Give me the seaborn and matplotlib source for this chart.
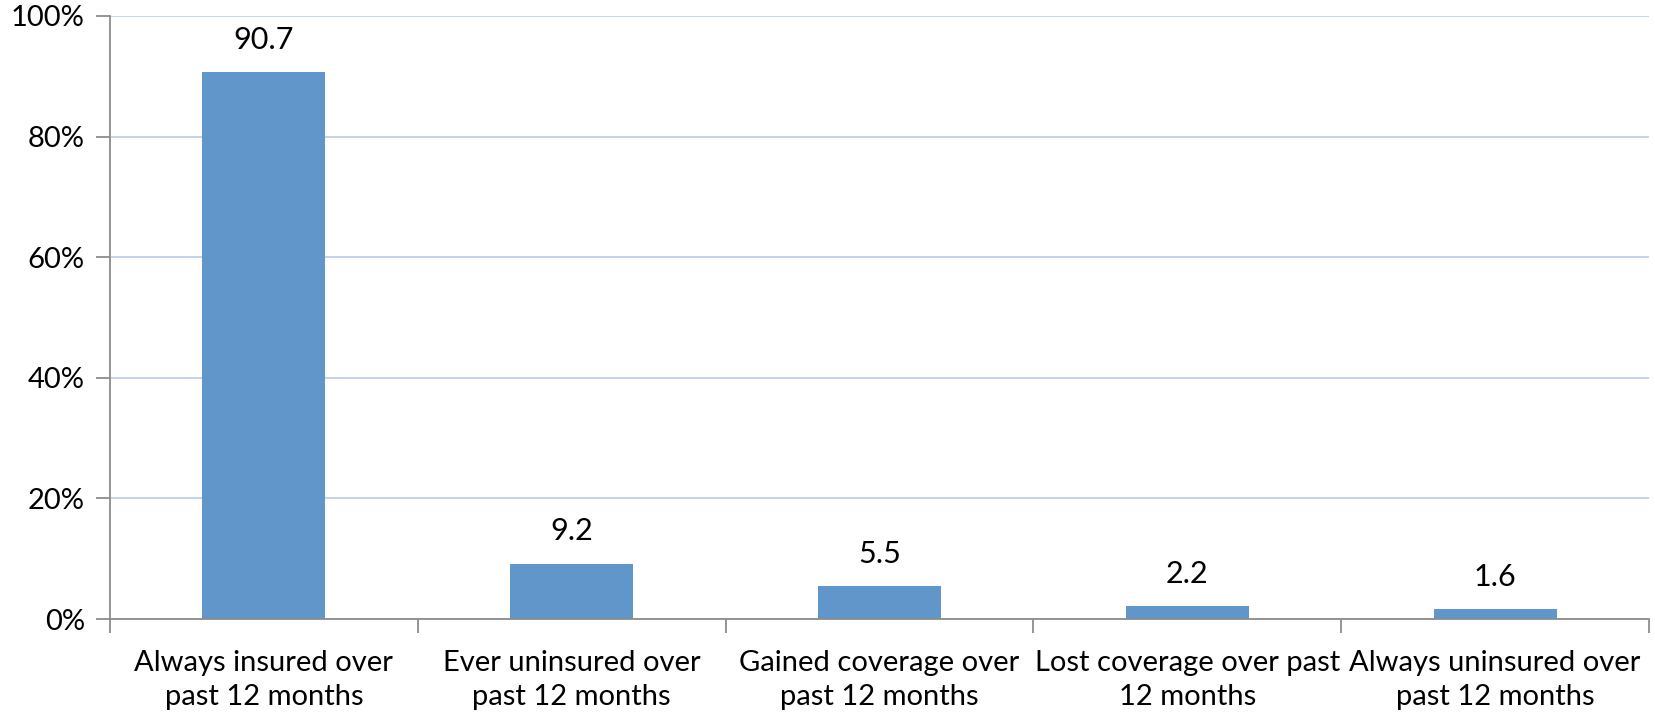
import matplotlib
matplotlib.use("Agg")
import matplotlib.pyplot as plt
import seaborn as sns
import pandas as pd
import numpy as np
from matplotlib.ticker import FixedLocator, FuncFormatter

categories = ["Always insured over\npast 12 months",
              "Ever uninsured over\npast 12 months",
              "Gained coverage over\npast 12 months",
              "Lost coverage over past\n12 months",
              "Always uninsured over\npast 12 months"]
values = [90.7, 9.2, 5.5, 2.2, 1.6]
yticks = [0, 20, 40, 60, 80, 100]

sns.set_theme(style="white")
plt.rcParams['font.family'] = ['Lato', 'DejaVu Sans']

df = pd.DataFrame({"cat": categories, "val": values})

fig = plt.figure(figsize=(16.56, 7.13), dpi=100)
ax = fig.add_axes([0.0664, 0.1318, 0.9294, 0.8458])

sns.barplot(data=df, x="cat", y="val", color="#6096CA", saturation=1,
            width=0.4, ax=ax, edgecolor="none", zorder=3)

ax.set_ylim(0, 100)
ax.set_xlim(-0.5, len(categories) - 0.5)
ax.yaxis.set_major_locator(FixedLocator(yticks))
ax.yaxis.set_major_formatter(FuncFormatter(lambda v, p: f"{int(v)}%"))
ax.grid(axis="y", color="#B9CDE5", linewidth=1.2, zorder=0)
ax.set_axisbelow(True)

for s in ["top", "right"]:
    ax.spines[s].set_visible(False)
for s in ["left", "bottom"]:
    ax.spines[s].set_color("#8C8C8C")
    ax.spines[s].set_linewidth(1.3)
    ax.spines[s].set_zorder(4)

ax.tick_params(axis="y", which="major", left=True, length=10, width=1.3,
               color="#8C8C8C", labelsize=21, pad=8, labelcolor="black")
ax.tick_params(axis="x", which="major", bottom=False, labelsize=21, pad=16,
               labelcolor="black")
ax.xaxis.set_minor_locator(FixedLocator(np.arange(-0.5, len(categories), 1.0)))
ax.tick_params(axis="x", which="minor", bottom=True, length=10, width=1.3,
               color="#8C8C8C")
for lab in ax.get_xticklabels():
    lab.set_linespacing(1.4)

ax.set_xlabel("")
ax.set_ylabel("")

for i, v in enumerate(values):
    ax.annotate(f"{v}", xy=(i, v), xytext=(0, 13), textcoords="offset points",
                ha="center", va="bottom", fontsize=22, color="black")

fig.savefig("out.png", dpi=100)
